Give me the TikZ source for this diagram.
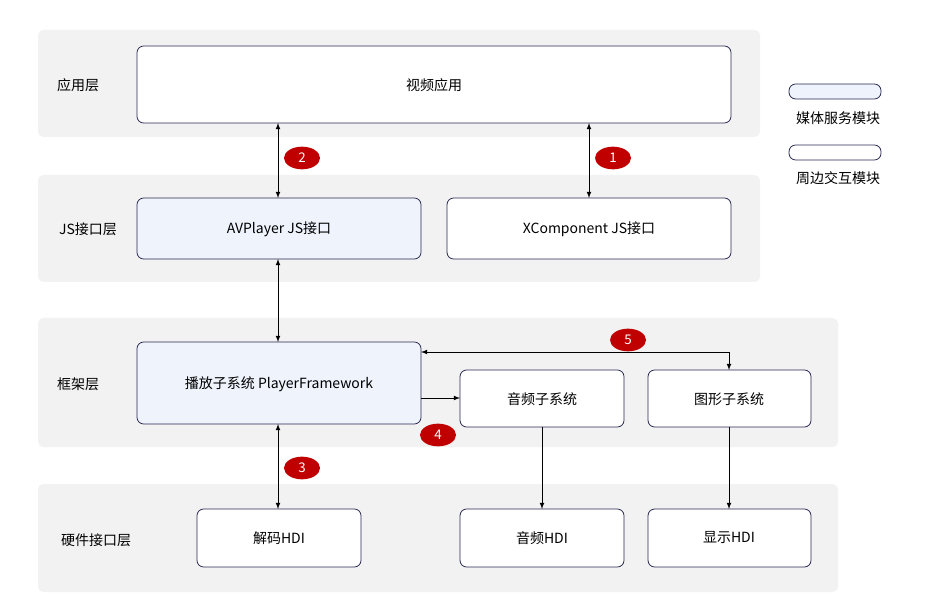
\documentclass[tikz,border=0pt]{standalone}
\usepackage{fontspec}
\setmainfont{Noto Sans CJK SC}
\usetikzlibrary{positioning}
\definecolor{layergray}{RGB}{242,242,242}
\definecolor{edgenavy}{RGB}{40,40,80}
\definecolor{mediablue}{RGB}{238,243,252}
\definecolor{badgered}{RGB}{192,0,0}
\tikzset{
    layer/.style={fill=layergray, draw=none, rounded corners=4pt},
    module/.style={draw=edgenavy, fill=white, rounded corners=5pt, line width=0.6pt},
    media/.style={module, fill=mediablue},
    badge/.style={ellipse, fill=badgered, text=white, minimum width=27pt, minimum height=17pt, inner sep=0pt, font=\fontsize{10}{12}\selectfont},
    link/.style={-latex, line width=0.6pt},
    both/.style={latex-latex, line width=0.6pt}
}
\usetikzlibrary{shapes.geometric}
\begin{document}
\begin{tikzpicture}[x=0.75pt,y=-0.75pt,font=\fontsize{10.5}{12}\selectfont]
\useasboundingbox (0,0) rectangle (937,605);

%Layers
\draw[layer] (38,30) rectangle (760,137);
\draw[layer] (38,175) rectangle (760,282);
\draw[layer] (38,318) rectangle (838,447);
\draw[layer] (38,484) rectangle (838,592);
\node (lapp) at (78,85) {应用层};
\node (ljs) at (88,229) {JS接口层};
\node (lfw) at (78,384) {框架层};
\node (lhw) at (96,540) {硬件接口层};

%Modules
\draw[module] (137,46) rectangle (731,123); \node (video) at (434,85) {视频应用};
\draw[media] (137,198) rectangle (421,259); \node (avp) at (279,229) {AVPlayer JS接口};
\draw[module] (447,198) rectangle (731,259); \node (xcomp) at (589,229) {XComponent JS接口};
\draw[media] (137,342) rectangle (421,424); \node (player) at (279,384) {播放子系统 PlayerFramework};
\draw[module] (460,370) rectangle (624,427); \node (audio) at (542,399) {音频子系统};
\draw[module] (648,370) rectangle (811,427); \node (graph) at (729,399) {图形子系统};
\draw[module] (197,509) rectangle (361,567); \node (dec) at (279,538) {解码HDI};
\draw[module] (460,509) rectangle (624,567); \node (ahdi) at (542,538) {音频HDI};
\draw[module] (648,509) rectangle (811,567); \node (dhdi) at (729,538) {显示HDI};

%Legend
\draw[media, rounded corners=5pt] (789,84) rectangle (881,99);
\node (lgmedia) at (838,118) {媒体服务模块};
\draw[module, rounded corners=5pt] (789,145) rectangle (881,160);
\node (lgperi) at (838,178) {周边交互模块};

%Connectors
\draw[both] (278,123) -- (278,198);
\draw[both] (589,123) -- (589,198);
\draw[both] (278,259) -- (278,342);
\draw[both] (278,424) -- (278,509);
\draw[both] (421,352) -- (729,352) -- (729,370);
\draw[link] (421,398) -- (460,398);
\draw[link] (542,427) -- (542,509);
\draw[link] (729,427) -- (729,509);

%Badges
\node[badge] (b1) at (613,158) {1};
\node[badge] (b2) at (302,158) {2};
\node[badge] (b3) at (302,468) {3};
\node[badge] (b4) at (438,435) {4};
\node[badge] (b5) at (628,340) {5};
\end{tikzpicture}
\end{document}
